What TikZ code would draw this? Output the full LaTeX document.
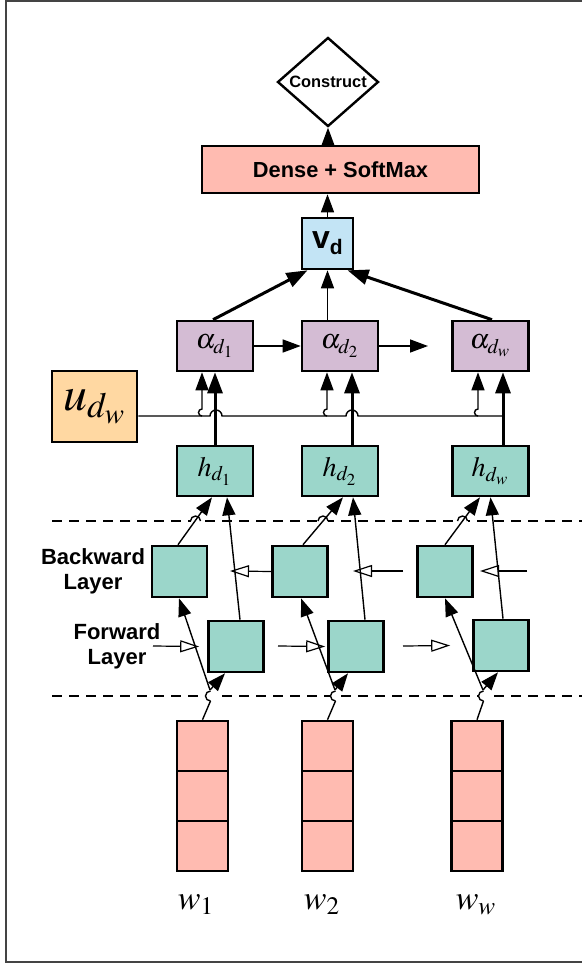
\documentclass[tikz,border=0pt]{standalone}
\usepackage{mathptmx}
\usepackage[no-math]{fontspec}
\setsansfont{Liberation Sans}
\usepackage{tikz}
\usetikzlibrary{arrows.meta,shapes.geometric,calc}
\definecolor{densecolor}{HTML}{FFBBB1}
\definecolor{vdcolor}{HTML}{C3E4F5}
\definecolor{attcolor}{HTML}{D4BCD4}
\definecolor{lstmcolor}{HTML}{9BD6CA}
\definecolor{ucolor}{HTML}{FFD8A2}
\definecolor{framecolor}{HTML}{444444}
\tikzset{
    cell/.style={draw,line width=1.3pt,inner sep=0pt},
    cellbox/.style={cell,minimum width=38pt,minimum height=25pt},
    lstmbox/.style={cell,fill=lstmcolor,minimum width=27.5pt,minimum height=25.5pt},
    wordbox/.style={cell,fill=densecolor,minimum width=25.5pt,minimum height=25pt},
    thin line/.style={line width=0.7pt},
    arr/.style={-{Triangle[length=9pt,width=6.5pt]},line width=0.7pt},
    thick arr/.style={-{Triangle[length=10.5pt,width=7.5pt]},line width=1.5pt},
    open arr/.style={-{Triangle[open,length=9.5pt,width=6pt]},line width=0.6pt},
    layer line/.style={line width=1.3pt,dash pattern=on 5pt off 3.5pt},
    layer label/.style={align=center,font=\sffamily\bfseries\fontsize{11}{12.5}\selectfont},
    math label/.style={font=\fontsize{14}{16}\selectfont},
    word label/.style={font=\fontsize{17}{20}\selectfont},
}
\tikzstyle{every node}=[font=\sffamily\bfseries]

\begin{document}
\begin{tikzpicture}[x=0.5pt,y=-0.5pt]
    \useasboundingbox (0,0) rectangle (582,964);
    \draw[framecolor,line width=1pt] (582,1) -- (6,1) -- (6,962) -- (582,962);

    % output part
    \node[diamond,draw,line width=1.2pt,inner sep=0pt,minimum width=50.5pt,minimum height=37pt,font=\sffamily\bfseries\fontsize{8.2}{9}\selectfont] (constr) at (328,82) {Construct};
    \node[cell,fill=densecolor,minimum width=138.5pt,minimum height=23.5pt,font=\sffamily\bfseries\fontsize{10.9}{12}\selectfont] (dense) at (340.5,169.5) {Dense + SoftMax};
    \node[cell,fill=vdcolor,minimum size=25.5pt] (vd) at (327.5,243.5) {\fontsize{16}{16}\selectfont v\raisebox{-0.35ex}{\fontsize{10.5}{10.5}\selectfont d}};
    \draw[arr] (dense.north -| constr.south) -- (constr.south);
    \draw[arr] (vd.north) -- (vd.north |- dense.south);

    % attention
    \node[cellbox,fill=attcolor,math label] (a1) at (215,346) {$\alpha_{d_1}$};
    \node[cellbox,fill=attcolor,math label] (a2) at (340,346) {$\alpha_{d_2}$};
    \node[cellbox,fill=attcolor,math label] (aw) at (490.5,346) {$\alpha_{d_w}$};
    \coordinate (anext) at (428,346);
    \draw[thick arr] ([xshift=-1pt]a1.north) -- ([xshift=-10pt]vd.south);
    \draw[arr] (vd.south |- a2.north) -- (vd.south);
    \draw[thick arr] ([xshift=0.75pt]aw.north) -- ([xshift=10pt]vd.south);
    \draw[arr] (a1) -- (a2);
    \draw[arr] (a2) -- (anext);

    % word context vector
    \node[cell,fill=ucolor,minimum width=42.5pt,minimum height=35.5pt,font=\fontsize{24}{26}\selectfont] (u) at (94.5,406.5) {$u_{d_w}$};
    \coordinate (uend) at (503,416);
    \coordinate (u1) at (202,416);
    \coordinate (u2) at (327,416);
    \coordinate (uw) at (478,416);
    \draw[thin line] (u.east |- uend) -- (210,416) arc[start angle=180,end angle=360,radius=6]
        -- (346,416) arc[start angle=180,end angle=360,radius=6] -- (uend);
    \draw[arr] (u1) arc[start angle=90,end angle=270,radius=3.5] -- ([xshift=-6.5pt]a1.south);
    \draw[arr] (u2) arc[start angle=90,end angle=270,radius=3.5] -- ([xshift=-6.5pt]a2.south);
    \draw[arr] (uw) arc[start angle=90,end angle=270,radius=3.5] -- ([xshift=-6.25pt]aw.south);

    % hidden states
    \node[cellbox,fill=lstmcolor,math label] (h1) at (215,471) {$h_{d_1}$};
    \node[cellbox,fill=lstmcolor,math label] (h2) at (340,471) {$h_{d_2}$};
    \node[cellbox,fill=lstmcolor,math label] (hw) at (490.5,471) {$h_{d_w}$};
    \draw[thick arr] (h1) -- (a1);
    \draw[thick arr] ([xshift=6pt]h2.north) -- ([xshift=6pt]a2.south);
    \draw[thick arr] ([xshift=6.25pt]hw.north) -- ([xshift=6.25pt]aw.south);

    % bidirectional layers
    \draw[layer line] (52,521) -- (582,521);
    \draw[layer line] (52,696) -- (582,696);
    \foreach \x in {195.5,323,462.5} {
        \fill[white] (\x-5,518) rectangle (\x+5,524);
        \draw[thin line] (\x-5,521) arc[start angle=180,end angle=360,radius=5];
    }
    \foreach \x in {210.5,335.5,483.5} {
        \fill[white] (\x-5,693) rectangle (\x+5,699);
        \draw[thin line] (\x,701) arc[start angle=90,end angle=270,radius=5];
    }
    \node[layer label] (bwd) at (93,571) {Backward\\Layer};
    \node[layer label] (fwd) at (117,646) {Forward\\Layer};
    \node[lstmbox] (b1) at (179.5,571.5) {};
    \node[lstmbox] (b2) at (300,571.5) {};
    \node[lstmbox] (bw) at (445,571.5) {};
    \node[lstmbox] (f1) at (236,646.5) {};
    \node[lstmbox] (f2) at (356,646.5) {};
    \node[lstmbox] (fw) at (501,645.5) {};

    \draw[arr] ([xshift=-0.75pt]b1.north) -- ([xshift=-1.5pt]h1.south);
    \draw[arr] ([xshift=2pt]f1.north) -- ([xshift=6pt]h1.south);
    \draw[arr] ([xshift=1.5pt]b2.north) -- ([xshift=1.5pt]h2.south);
    \draw[arr] ([xshift=4.5pt]f2.north) -- ([xshift=6.5pt]h2.south);
    \draw[arr] (bw.north) -- ([xshift=-5.25pt]hw.south);
    \draw[arr] ([xshift=1pt]fw.north) -- (hw.south);

    \coordinate (bin2) at (230,571);
    \coordinate (bout3) at (403,571);
    \coordinate (bin3) at (353,571);
    \coordinate (bout4) at (527,571);
    \coordinate (bin4) at (480,571);
    \draw[open arr] (b2.west) -- (bin2);
    \draw[open arr] (bout3) -- (bin3);
    \draw[open arr] (bout4) -- (bin4);
    \coordinate (fout1) at (153,646);
    \coordinate (fout2) at (278,646);
    \coordinate (fout3) at (403,646);
    \draw[open arr] (fout1) -- ([xshift=-4pt]f1.west);
    \draw[open arr] (fout2) -- ([xshift=-1pt]f2.west);
    \draw[open arr] (fout3) -- ([xshift=-11pt]fw.west);

    % word vectors
    \foreach \n/\x in {1/202.5,2/327.5,w/477} {
        \node[wordbox] (w\n-top) at (\x,746) {};
        \node[wordbox] (w\n-mid) at (\x,796) {};
        \node[wordbox] (w\n-bot) at (\x,846) {};
    }
    \node[word label] (w1l) at (196,905) {$w_1$};
    \node[word label] (w2l) at (322,905) {$w_2$};
    \node[word label] (wwl) at (476,905) {$w_w$};

    \coordinate (j1) at (210,690);
    \coordinate (j2) at (335,690);
    \coordinate (jw) at (483,690);
    \draw[thin line] (w1-top.north) -- (210.5,701);
    \draw[thin line] (w2-top.north) -- (335.5,701);
    \draw[thin line] (ww-top.north) -- (483.5,701);
    \draw[arr] (j1) -- ([xshift=-0.25pt]b1.south);
    \draw[arr] (j1) -- ([xshift=-5.5pt]f1.south);
    \draw[arr] (j2) -- ([xshift=0.5pt]b2.south);
    \draw[arr] (j2) -- ([xshift=-4pt]f2.south);
    \draw[arr] (jw) -- (bw.south);
    \draw[arr] (jw) -- ([xshift=-1.5pt]fw.south);
\end{tikzpicture}
\end{document}
